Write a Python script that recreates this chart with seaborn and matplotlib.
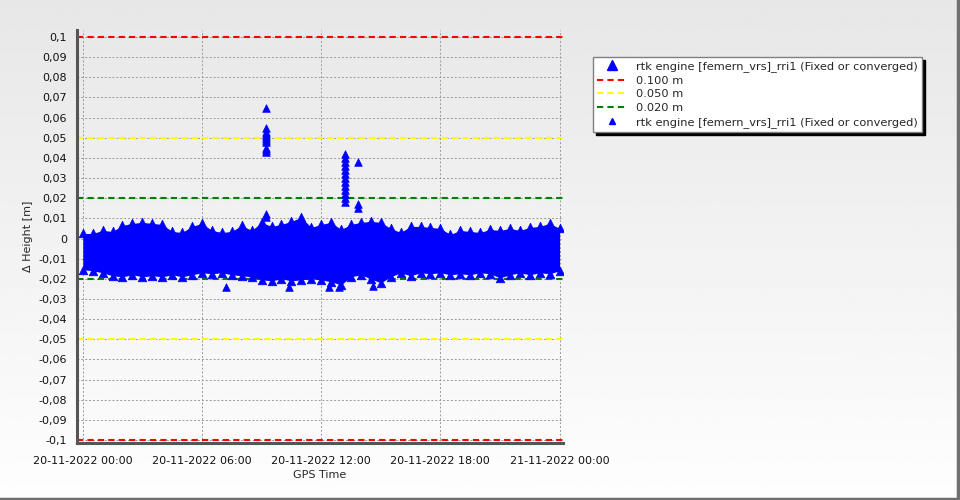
import numpy as np
import pandas as pd
import seaborn as sns
import matplotlib.pyplot as plt
from matplotlib.lines import Line2D
from matplotlib.ticker import FuncFormatter, MultipleLocator

# band envelope of delta height, read every 30 minutes (hours, mm)
hours = [0, 0.5, 1, 1.5, 2, 2.5, 3, 3.5, 4, 4.5, 5, 5.5, 6, 6.5, 7, 7.5, 8, 8.5,
         9, 9.5, 10, 10.5, 11, 11.5, 12, 12.5, 13, 13.5, 14, 14.5, 15, 15.5,
         16, 16.5, 17, 17.5, 18, 18.5, 19, 19.5, 20, 20.5, 21, 21.5, 22, 22.5,
         23, 23.5, 24]
upper_mm = [2.5, 2.5, 4, 3.5, 6.5, 7.5, 8, 7.5, 7, 3.5, 3, 6, 7.5, 4, 3, 3.5,
            6.5, 4, 8, 6, 7, 8.5, 10.5, 5.5, 7, 8, 4.5, 7, 8, 8.5, 8, 5, 3, 6,
            6, 5.5, 5, 2, 4, 3.5, 3, 4.5, 4, 5, 4, 5.5, 6, 7.5, 5]
lower_mm = [-15.5, -16, -17, -18.5, -19, -18, -19, -18.5, -19, -18, -19, -18,
            -17, -17.5, -17, -18, -18.5, -19, -20.5, -21, -20, -21, -20.5, -20,
            -20.5, -21.5, -23, -19, -18, -20, -22, -19, -17, -18.5, -17, -17.5,
            -17, -18, -17.5, -18, -17, -17.5, -19.5, -18, -17, -18, -17, -17.5,
            -16]

# isolated outliers (hours, mm)
spike_hours = [9.2] * 13 + [13.2] * 13 + [13.84] * 3 + [7.2, 10.4, 12.4, 12.9, 14.6]
spike_mm = [65, 55, 53, 52, 51, 50, 49, 48, 45, 44, 43, 12, 10.5,
            42, 40, 38, 36, 34, 32, 30, 28, 26, 24, 22, 20, 18,
            38, 17, 15,
            -24, -24, -24, -24, -23.5]

thresholds = [0.1, 0.05, 0.02]
threshold_colors = ['#ff0000', '#ffff00', '#008000']
threshold_labels = ['0.100 m', '0.050 m', '0.020 m']

tick_hours = [0, 6, 12, 18, 24]
tick_labels = ['20-11-2022 00:00', '20-11-2022 06:00', '20-11-2022 12:00',
               '20-11-2022 18:00', '21-11-2022 00:00']
series_name = 'rtk engine [femern_vrs]_rri1 (Fixed or converged)'

band = pd.DataFrame({'h': hours, 'up': np.array(upper_mm) / 1000,
                     'lo': np.array(lower_mm) / 1000})
spikes = pd.DataFrame({'h': spike_hours, 'v': np.array(spike_mm) / 1000})

sns.set_style('white')
plt.rcParams['font.family'] = ['DejaVu Sans']
plt.rcParams['font.size'] = 8

fig = plt.figure(figsize=(9.6, 5.0), dpi=100)

# grey-to-white background gradient
bg = fig.add_axes([0, 0, 1, 1], zorder=-10)
grad = np.linspace(0.905, 0.995, 256).reshape(-1, 1)
bg.imshow(grad, aspect='auto', cmap='gray', vmin=0, vmax=1, extent=[0, 1, 1, 0])
bg.plot([0, 0.998, 0.998], [0.003, 0.003, 1], color='#707070', lw=2.5,
        transform=bg.transAxes)
bg.set_xlim(0, 1)
bg.set_ylim(1, 0)
bg.axis('off')

ax = fig.add_axes([0.080, 0.114, 0.506, 0.826])
ax.patch.set_alpha(0)

for y, c in zip(thresholds, threshold_colors):
    ax.axhline(y, color=c, ls='--', lw=1.5, dashes=(3, 2), zorder=2)
    ax.axhline(-y, color=c, ls='--', lw=1.5, dashes=(3, 2), zorder=2)

ax.fill_between(band['h'], band['lo'], band['up'], color='#0000ff', lw=0, zorder=3)
sns.scatterplot(data=band, x='h', y='up', marker='^', color='#0000ff',
                edgecolor='#0000ff', s=38, linewidth=0.5, ax=ax, zorder=4)
sns.scatterplot(data=band, x='h', y='lo', marker='^', color='#0000ff',
                edgecolor='#0000ff', s=38, linewidth=0.5, ax=ax, zorder=4)
sns.scatterplot(data=spikes, x='h', y='v', marker='^', color='#0000ff',
                edgecolor='#0000ff', s=30, linewidth=0.5, ax=ax, zorder=4)

ax.set_xlim(-0.3, 24.15)
ax.set_ylim(-0.1015, 0.1035)
ax.set_xticks(tick_hours)
ax.set_xticklabels(tick_labels)
ax.xaxis.set_minor_locator(MultipleLocator(2))
ax.set_yticks(np.round(np.arange(-0.1, 0.1001, 0.01), 2))


def comma_fmt(v, pos):
    s = f'{v:.2f}'.rstrip('0').rstrip('.')
    if s in ('-0', ''):
        s = '0'
    return s.replace('.', ',')


ax.yaxis.set_major_formatter(FuncFormatter(comma_fmt))
ax.grid(True, which='major', color='#9a9a9a', ls=(0, (2, 2)), lw=0.7)
ax.set_axisbelow(True)
ax.tick_params(axis='both', which='major', direction='out', length=4,
               color='#808080', labelsize=8, labelcolor='#111111', pad=3)
ax.tick_params(axis='x', which='major', pad=5)
ax.tick_params(axis='x', which='minor', direction='out', length=3, color='#a0a0a0')
for s in ['top', 'right']:
    ax.spines[s].set_visible(False)
for s in ['left', 'bottom']:
    ax.spines[s].set_color('#555555')
    ax.spines[s].set_linewidth(2.2)
ax.set_xlabel('GPS Time', fontsize=8, labelpad=3)
ax.set_ylabel('Δ Height [m]', fontsize=8, labelpad=4)

handles = [Line2D([], [], marker='^', ls='none', color='#0000ff', markersize=7)]
handles += [Line2D([], [], color=c, ls='--', lw=1.5, dashes=(3, 2))
            for c in threshold_colors]
handles += [Line2D([], [], marker='^', ls='none', color='#0000ff', markersize=5)]
labels = [series_name] + threshold_labels + [series_name]
leg = fig.legend(handles, labels, loc='upper left',
                 bbox_to_anchor=(0.618, 0.886), frameon=True, fancybox=False,
                 shadow={'color': 'black', 'alpha': 1}, fontsize=8.2,
                 handlelength=2.6, handletextpad=0.8, labelspacing=0.33,
                 borderpad=0.35, borderaxespad=0)
leg.get_frame().set_edgecolor('#808080')
leg.get_frame().set_linewidth(1)
leg.get_frame().set_facecolor('white')
leg.get_frame().set_alpha(1)

fig.savefig('out.png', dpi=100)
